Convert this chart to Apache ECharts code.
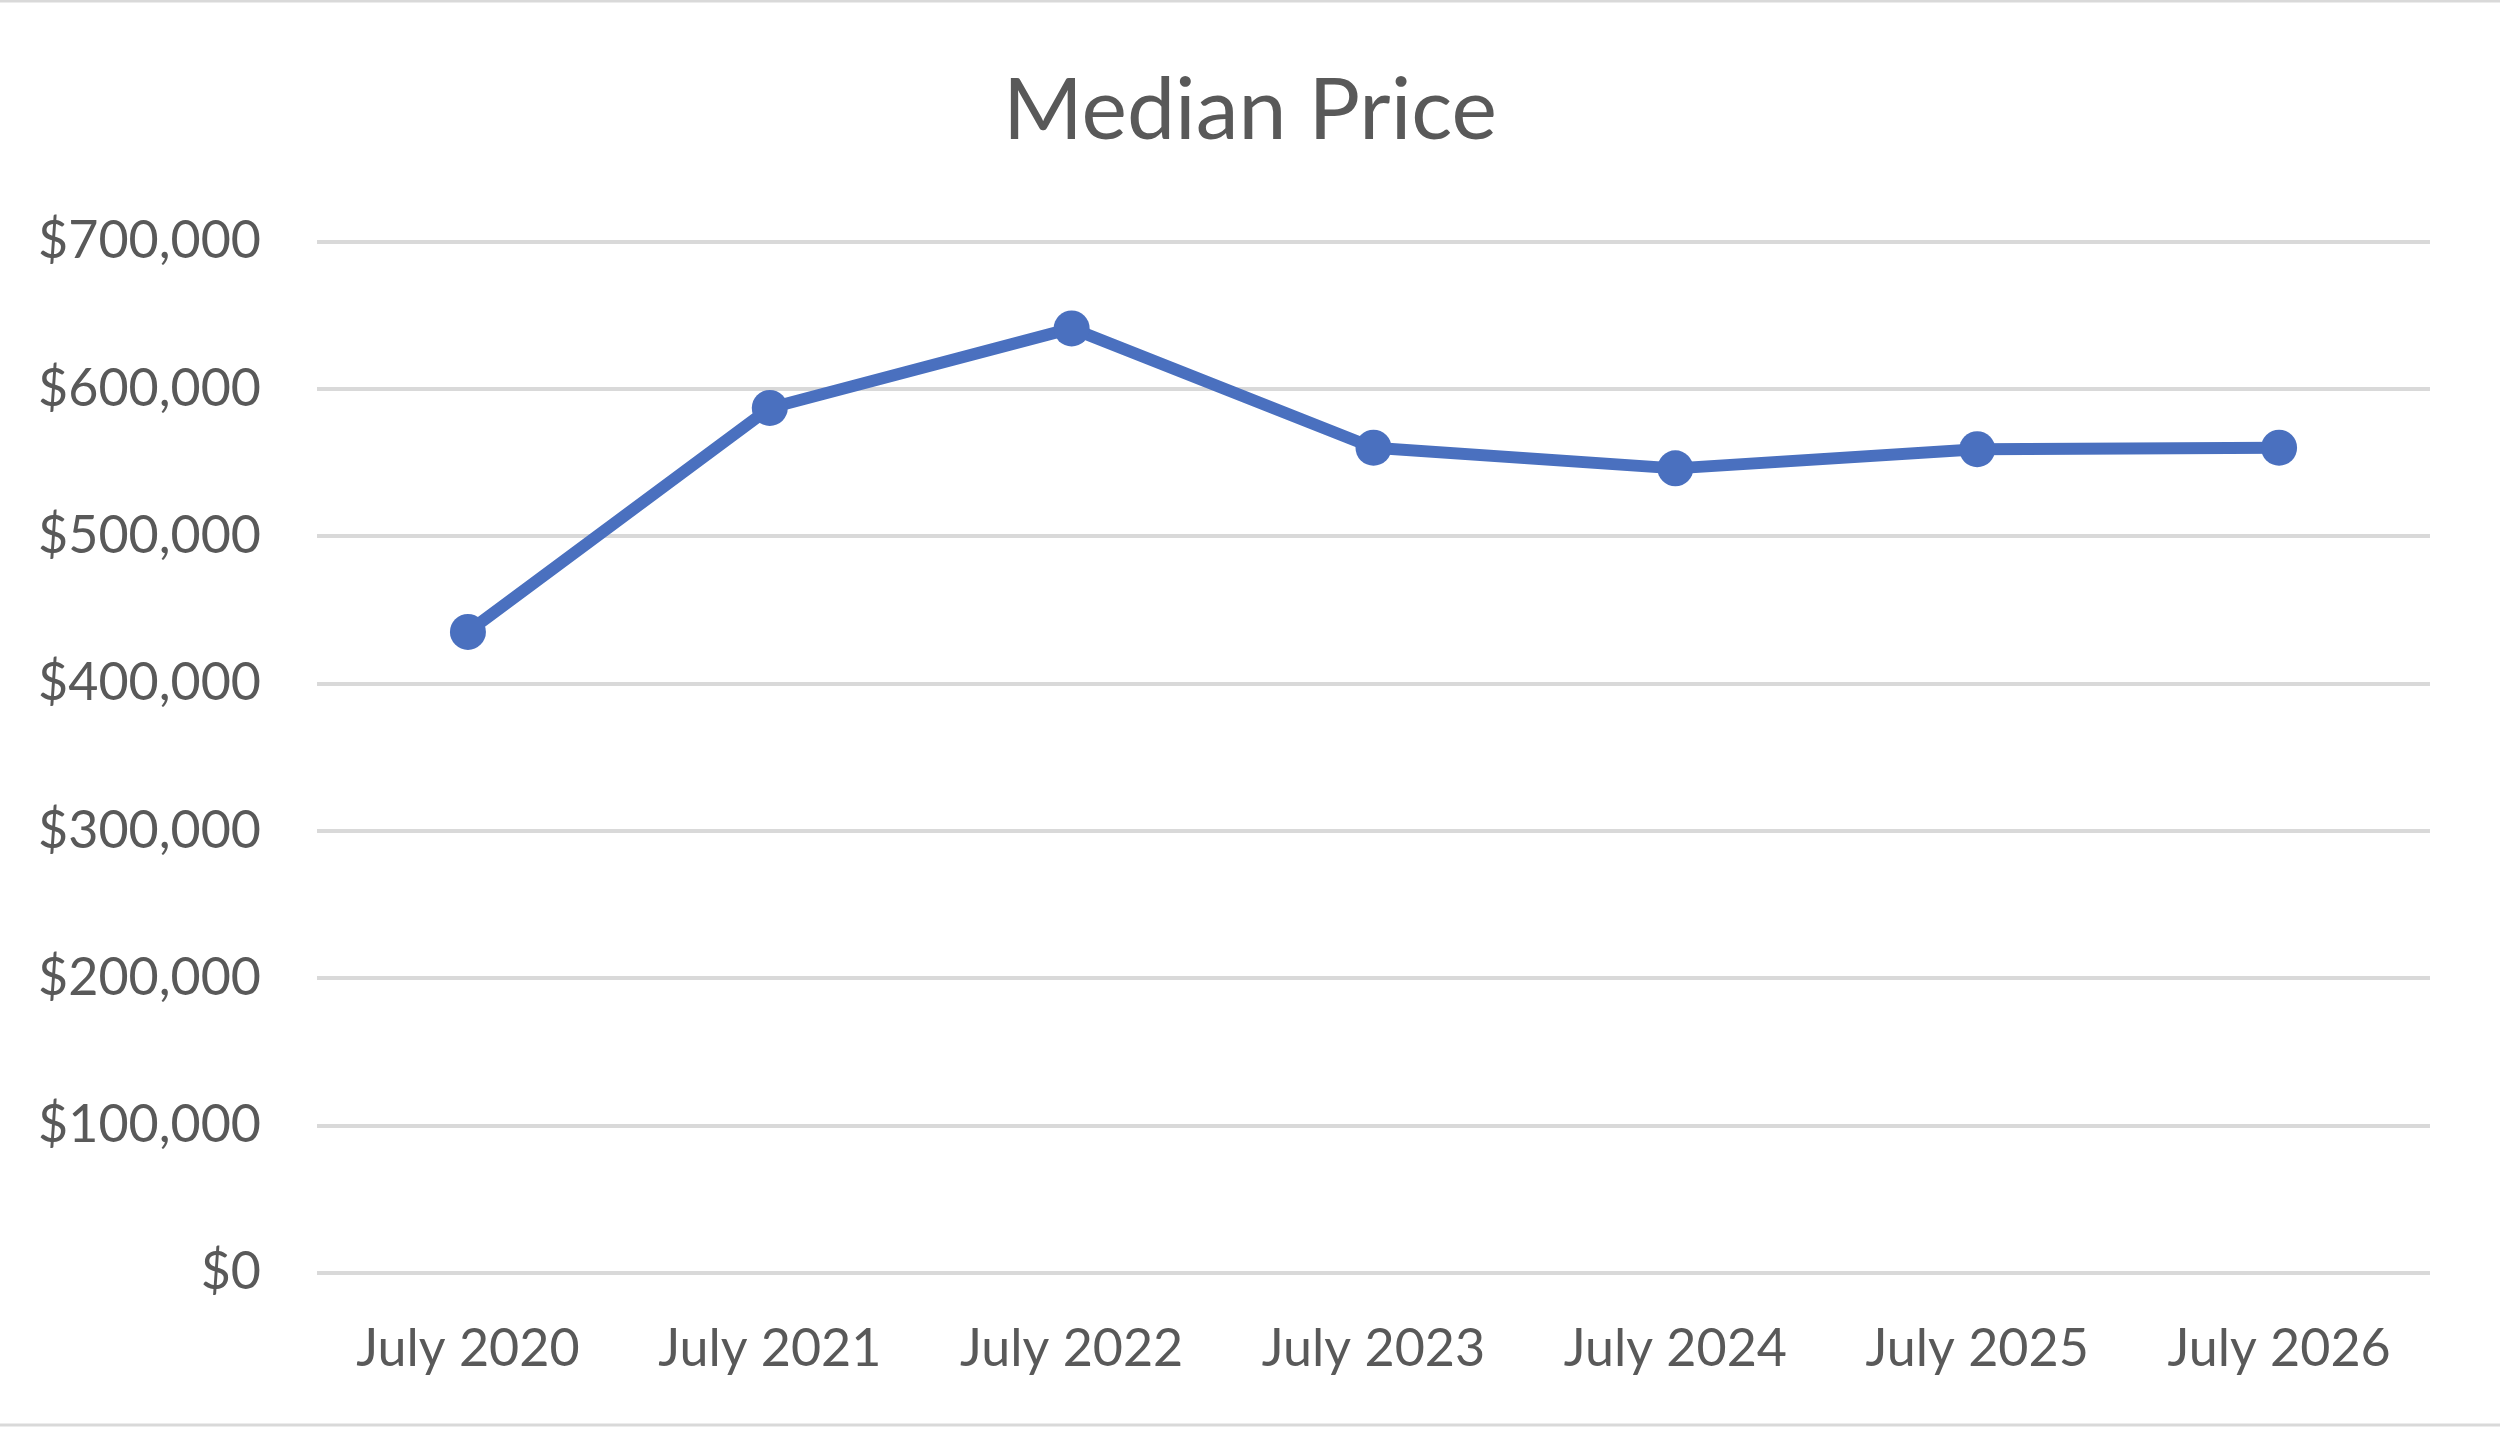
<!DOCTYPE html>
<html>
<head>
	<meta charset="utf-8">
	<title>Median Price</title>
	<script src="https://cdn.jsdelivr.net/npm/echarts@6/dist/echarts.min.js"></script>
	<style>
		html, body { margin: 0; padding: 0; background: #fff; }
		#chart { width: 2500px; height: 1429px; }
	</style>
</head>
<body>
<div id="chart"></div>
<script>
    // data
    var months = ['July 2020', 'July 2021', 'July 2022', 'July 2023', 'July 2024', 'July 2025', 'July 2026'];
    var medianPrice = [435000, 587000, 641000, 560000, 546000, 559000, 560000];
    var yMin = 0, yMax = 700000, yStep = 100000;

    var textColor = '#595959';
    var font = 'Lato, "Open Sans", sans-serif';

    var chart = echarts.init(document.getElementById('chart'));
    chart.setOption({
        backgroundColor: '#ffffff',
        animation: false,
        title: {
            text: 'Median Price',
            left: 'center',
            top: 63,
            textStyle: { color: textColor, fontFamily: font, fontSize: 86, fontWeight: 'normal' }
        },
        grid: { left: 317, right: 70, top: 241.5, bottom: 156.3, containLabel: false },
        xAxis: {
            type: 'category',
            data: months,
            boundaryGap: true,
            axisLine: { show: false },
            axisTick: { show: false },
            axisLabel: { color: textColor, fontFamily: font, fontSize: 52, margin: 51 }
        },
        yAxis: {
            type: 'value',
            min: yMin,
            max: yMax,
            interval: yStep,
            axisLine: { show: false },
            axisTick: { show: false },
            splitLine: { lineStyle: { color: '#D9D9D9', width: 4 } },
            axisLabel: {
                color: textColor, fontFamily: font, fontSize: 52, margin: 56,
                formatter: function (v) { return '$' + v.toLocaleString('en-US'); }
            }
        },
        series: [{
            name: 'Median Price',
            type: 'line',
            data: medianPrice,
            symbol: 'circle',
            symbolSize: 36,
            lineStyle: { color: '#4A70BF', width: 12 },
            itemStyle: { color: '#4A70BF' }
        }],
        graphic: [
            { type: 'line', shape: { x1: 0, y1: 1, x2: 2500, y2: 1 }, style: { stroke: '#D9D9D9', lineWidth: 3 } },
            { type: 'line', shape: { x1: 0, y1: 1425, x2: 2500, y2: 1425 }, style: { stroke: '#D9D9D9', lineWidth: 3 } }
        ]
    });
    window.onresize = chart.resize;
</script>
</body>
</html>
